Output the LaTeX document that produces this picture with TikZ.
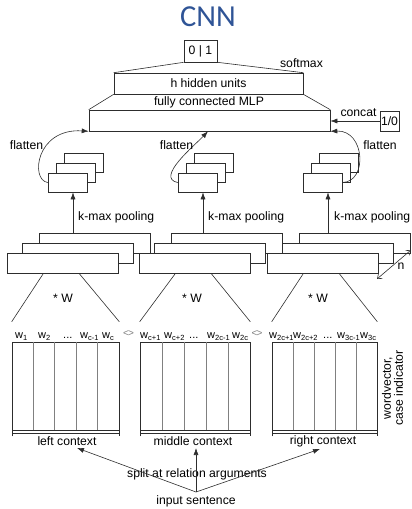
\documentclass[tikz,border=0pt]{standalone}
\usepackage{fontspec}
\setmainfont{Liberation Sans}
\newfontfamily\titlefont{Carlito}
\usetikzlibrary{arrows.meta,calc}
\definecolor{titleblue}{RGB}{47,84,150}
\definecolor{ln}{RGB}{45,45,45}
\newcommand{\wsb}[1]{w\raisebox{-2.5pt}{\fontsize{7.5}{8}\selectfont #1}}
\begin{document}
\begin{tikzpicture}[x=1pt,y=-1pt,
  every node/.style={font=\fontsize{12.2}{14}\selectfont, inner sep=0pt},
  box/.style={draw=ln, fill=white, line width=0.6pt, inner sep=0pt},
  pbox/.style={box, minimum width=39pt, minimum height=19pt},
  cbox/.style={box, minimum width=111pt, minimum height=20pt},
  mat/.style={draw=ln, line width=0.6pt, minimum height=88pt},
  ln/.style={draw=ln, line width=0.6pt},
  arr/.style={draw=ln, line width=0.6pt, -{Latex[length=7pt,width=5pt]}},
  wlab/.style={anchor=base west, font=\fontsize{11}{12}\selectfont},
  sep/.style={font=\fontsize{10}{11}\selectfont, text=gray},
  brk/.style={draw=ln, line width=0.6pt, {Bar[width=6pt]}-{Bar[width=6pt]}}]
\useasboundingbox (0,0) rectangle (412,509);

% title
\node[font=\titlefont\fontsize{30.5}{32}\selectfont, text=titleblue, anchor=base] (title) at (208,26) {CNN};

% top part
\node[box, minimum width=33pt, minimum height=22pt] (out) at (200.5,51) {0 | 1};
\node (smx) at (301.5,63) {softmax};
\node[box, minimum width=189pt, minimum height=21pt] (hid) at (208.5,83.5) {h hidden units};
\node (fcm) at (209,102) {fully connected MLP};
\node[box, minimum width=241pt, minimum height=21pt] (mlp) at (209.5,120.5) {};
\node (cat) at (358.5,113) {concat};
\node[box, minimum width=19pt, minimum height=20pt] (ten) at (389.5,121) {1/0};
\draw[ln] (out.south west) -- (hid.north west) (out.south east) -- (hid.north east);
\draw[ln] (hid.south west) -- (mlp.north west) (hid.south east) -- (mlp.north east);
\draw[arr] (ten.west) -- (ten.west -| mlp.east);

% pooled feature map stacks
\foreach \n/\cx in {L/67.5, M/197.5, R/322.5} {
  \node[pbox] (p\n3) at (\cx+16,162.5) {};
  \node[pbox] (p\n2) at (\cx+8,172.5) {};
  \node[pbox] (p\n1) at (\cx,182.5) {};
}

% flatten curves
\draw[arr] (pL1.west) .. controls (30,180) and (36,128) .. (mlp.south west);
\draw[arr] (pM1.west) .. controls (155,178) and (195,145) .. ([xshift=-1.5pt]mlp.south);
\draw[arr] (pR1.east) .. controls (368,182) and (365,130) .. (mlp.south east);
\node (flL) at (26.5,145) {flatten};
\node (flM) at (176.5,145) {flatten};
\node (flR) at (380,145) {flatten};

% convolution layers
\foreach \n/\cx in {L/62.5, M/194.5, R/322.5} {
  \node[cbox] (c\n3) at (\cx+32,243.5) {};
}
\foreach \n/\cx in {L/62.5, M/194.5, R/322.5} {
  \node[cbox] (c\n2) at (\cx+15,253.5) {};
}
\foreach \n/\cx in {L/62.5, M/194.5, R/322.5} {
  \node[cbox] (c\n1) at (\cx,263) {};
}

% k-max pooling arrows
\foreach \n in {L,M,R} {
  \coordinate (k\n) at ([xshift=5.5pt]p\n1.south);
  \draw[arr] (k\n |- c\n3.north) -- (k\n);
}
\node[anchor=west] (kpL) at (78,217) {k-max pooling};
\node[anchor=west] (kpM) at (208,217) {k-max pooling};
\node[anchor=west] (kpR) at (334,217) {k-max pooling};

% n arrow
\coordinate (nT) at (411,250);
\coordinate (nB) at (377,279);
\draw[draw=ln, line width=0.6pt, {Straight Barb[length=4pt,width=6pt]}-{Straight Barb[length=4pt,width=6pt]}] (nT) -- (nB);
\node (nlab) at (401,266) {n};

% word matrices
\node[mat, minimum width=107pt] (mL) at (65.5,386) {};
\node[mat, minimum width=110pt] (mM) at (195,386) {};
\node[mat, minimum width=105pt] (mR) at (324.5,386) {};
\foreach \n in {L,M,R} {
  \foreach \k in {1,2,3,4} {
    \draw[gray, line width=0.6pt] ($(m\n.north west)!\k/5!(m\n.north east)$) -- ($(m\n.south west)!\k/5!(m\n.south east)$);
  }
  \draw[brk] ([yshift=-3pt]m\n.south west) -- ([yshift=-3pt]m\n.south east);
  \draw[ln] ([xshift=-19pt]c\n1.south) -- ([yshift=20pt]m\n.north west);
  \draw[ln] ([xshift=16.5pt]c\n1.south) -- ([yshift=20pt]m\n.north east);
}
\node (wL) at (63,298) {* W};
\node (wM) at (192,298) {* W};
\node (wR) at (318,298) {* W};

% word labels
\node[wlab] (w1) at (15,338) {\wsb{1}};
\node[wlab] (w2) at (38,338) {\wsb{2}};
\node[wlab] (d1) at (63,338) {...};
\node[wlab] (w3) at (80,338) {\wsb{c-1}};
\node[wlab] (w4) at (102,338) {\wsb{c}};
\node[sep] (s1) at (128.5,333.5) {\textless\kern-1pt\textgreater};
\node[wlab] (w5) at (140,338) {\wsb{c+1}};
\node[wlab] (w6) at (164,338) {\wsb{c+2}};
\node[wlab] (d2) at (189,338) {...};
\node[wlab] (w7) at (207,338) {\wsb{2c-1}};
\node[wlab] (w8) at (232,338) {\wsb{2c}};
\node[sep] (s2) at (257,333.5) {\textless\kern-1pt\textgreater};
\node[wlab] (w9) at (269,338) {\wsb{2c+1}};
\node[wlab] (w10) at (293,338) {\wsb{2c+2}};
\node[wlab] (d3) at (323,338) {...};
\node[wlab] (w11) at (337,338) {\wsb{3c-1}};
\node[wlab] (w12) at (360,338) {\wsb{3c}};

\node[rotate=90, align=center, font=\fontsize{12.2}{12}\selectfont] (wv) at (392.5,388) {wordvector,\\case indicator};

% contexts
\node (lc) at (67,441) {left context};
\node (mc) at (193,441) {middle context};
\node (rc) at (323,441) {right context};

% bottom
\node (inp) at (196,501) {input sentence};
\node (spl) at (197,474) {split at relation arguments};
\coordinate (src) at (196,492);
\coordinate (tL) at (77,448);
\coordinate (tM) at (196,448);
\coordinate (tR) at (320,449);
\draw[arr] (src) -- (tL);
\draw[arr] (src) -- (tM);
\draw[arr] (src) -- (tR);
\end{tikzpicture}
\end{document}
